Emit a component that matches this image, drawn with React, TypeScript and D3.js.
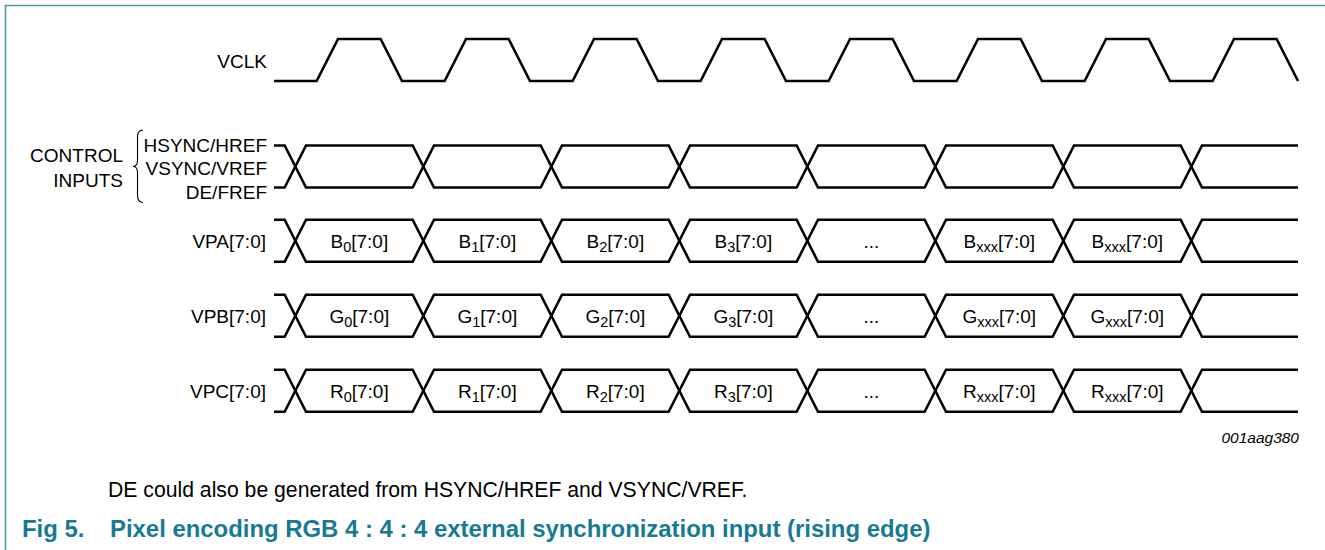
import React, { useEffect, useRef } from 'react';
import * as d3 from 'd3';

const WIDTH = 1325;
const HEIGHT = 550;
const FONT = '"Liberation Sans", Arial, Helvetica, sans-serif';
const TEAL = '#177a95';

// time is counted in units: one VCLK period = 6 units, bus changes once per period
const PERIOD = 6;
const T_START = -1;
const T_END = 47;
const clockPulses = [0, 1, 2, 3, 4, 5, 6, 7];
const busTransitions = [0, 1, 2, 3, 4, 5, 6, 7];

// vertical lanes
const laneNames = ['VCLK', 'CONTROL', 'VPA[7:0]', 'VPB[7:0]', 'VPC[7:0]'];
const laneIndex = [0, 1.42, 2.41, 3.41, 4.41];

const controlLabels = ['HSYNC/HREF', 'VSYNC/VREF', 'DE/FREF'];
const groupLabels = ['CONTROL', 'INPUTS'];

// [letter, subscript] per data period
const vpaWords: [string, string][] = [['B', '0'], ['B', '1'], ['B', '2'], ['B', '3'], ['...', ''], ['B', 'xxx'], ['B', 'xxx'], ['', '']];
const vpbWords: [string, string][] = [['G', '0'], ['G', '1'], ['G', '2'], ['G', '3'], ['...', ''], ['G', 'xxx'], ['G', 'xxx'], ['', '']];
const vpcWords: [string, string][] = [['R', '0'], ['R', '1'], ['R', '2'], ['R', '3'], ['...', ''], ['R', 'xxx'], ['R', 'xxx'], ['', '']];

const drawingId = '001aag380';
const footNote = 'DE could also be generated from HSYNC/HREF and VSYNC/VREF.';
const figNumber = 'Fig 5.';
const figTitle = 'Pixel encoding RGB 4 : 4 : 4 external synchronization input (rising edge)';

export default function App() {
  const svgRef = useRef<SVGSVGElement | null>(null);

  useEffect(() => {
    document.body.style.margin = '0';
    if (!svgRef.current) return;
    const svg = d3.select(svgRef.current);
    svg.selectAll('*').remove();

    const x = d3.scaleLinear().domain([T_START, T_END]).range([274, 1298]);
    const lane = d3.scaleLinear().domain([0, 4.41]).range([60, 390.75]);
    const level = d3.scaleLinear().domain([-1, 1]).range([21, -21]);

    const line = d3.line<[number, number]>()
      .x(d => x(d[0]))
      .y(d => d[1]);

    svg.append('rect').attr('width', WIDTH).attr('height', HEIGHT).attr('fill', '#ffffff');

    // frame
    svg.append('path')
      .attr('d', `M5.5,${HEIGHT} V5.5 H${WIDTH}`)
      .attr('fill', 'none')
      .attr('stroke', '#4f97aa')
      .attr('stroke-width', 1.6);

    const wave = svg.append('g')
      .attr('fill', 'none')
      .attr('stroke', '#000')
      .attr('stroke-width', 2.6)
      .attr('stroke-linejoin', 'miter');

    // VCLK
    const cy = lane(laneIndex[0]);
    const hi = cy + level(1);
    const lo = cy + level(-1);
    const clkPts: [number, number][] = [[T_START, lo]];
    clockPulses.forEach(k => {
      const t = k * PERIOD;
      clkPts.push([t + 1, lo], [t + 2, hi], [t + 4, hi], [t + 5, lo]);
    });
    wave.append('path').attr('d', line(clkPts));

    // buses
    const drawBus = (center: number) => {
      const H = center + level(1);
      const L = center + level(-1);
      const edges = busTransitions.map(k => k * PERIOD);
      // leading open segment
      wave.append('path').attr('d', line([[T_START, H], [edges[0] - 0.5, H], [edges[0], center]]));
      wave.append('path').attr('d', line([[T_START, L], [edges[0] - 0.5, L], [edges[0], center]]));
      edges.forEach((e, i) => {
        const next = edges[i + 1];
        if (next === undefined) {
          wave.append('path').attr('d', line([[e, center], [e + 0.5, H], [T_END, H]]));
          wave.append('path').attr('d', line([[e, center], [e + 0.5, L], [T_END, L]]));
        } else {
          wave.append('path').attr('d', line([[e, center], [e + 0.5, H], [next - 0.5, H], [next, center]]));
          wave.append('path').attr('d', line([[e, center], [e + 0.5, L], [next - 0.5, L], [next, center]]));
        }
      });
      return edges;
    };

    const ctrlCenter = lane(laneIndex[1]);
    drawBus(ctrlCenter);

    const busWords = [vpaWords, vpbWords, vpcWords];
    const text = svg.append('g').attr('font-family', FONT).attr('fill', '#000');

    busWords.forEach((words, bi) => {
      const center = lane(laneIndex[bi + 2]);
      const edges = drawBus(center);
      words.forEach(([letter, sub], i) => {
        if (!letter) return;
        const xm = x(edges[i] + PERIOD / 2);
        const t = text.append('text')
          .attr('x', xm)
          .attr('y', center + 7)
          .attr('text-anchor', 'middle')
          .attr('font-size', 19);
        if (letter === '...') {
          t.text('...');
          return;
        }
        t.append('tspan').text(letter);
        t.append('tspan').attr('font-size', 14.5).attr('dy', 4).text(sub);
        t.append('tspan').attr('dy', -4).text('[7:0]');
      });
      text.append('text')
        .attr('x', 266)
        .attr('y', center + 7)
        .attr('text-anchor', 'end')
        .attr('font-size', 19)
        .text(laneNames[bi + 2]);
    });

    // left labels
    text.append('text')
      .attr('x', 267)
      .attr('y', cy + 7.5)
      .attr('text-anchor', 'end')
      .attr('font-size', 19)
      .text(laneNames[0]);

    controlLabels.forEach((lbl, i) => {
      text.append('text')
        .attr('x', 267)
        .attr('y', ctrlCenter - 21.5 + i * 23.4 + 7)
        .attr('text-anchor', 'end')
        .attr('font-size', 19)
        .text(lbl);
    });

    groupLabels.forEach((lbl, i) => {
      text.append('text')
        .attr('x', 123)
        .attr('y', ctrlCenter - 4.5 + i * 25)
        .attr('text-anchor', 'end')
        .attr('font-size', 19)
        .text(lbl);
    });

    // brace
    const by0 = ctrlCenter - 36.5;
    const by1 = ctrlCenter + 36;
    svg.append('path')
      .attr('d', `M143,${by0} Q137.5,${by0} 137.5,${by0 + 7} L137.5,${ctrlCenter - 6} Q137.5,${ctrlCenter} 133,${ctrlCenter} Q137.5,${ctrlCenter} 137.5,${ctrlCenter + 6} L137.5,${by1 - 7} Q137.5,${by1} 143,${by1}`)
      .attr('fill', 'none')
      .attr('stroke', '#000')
      .attr('stroke-width', 1.1);

    text.append('text')
      .attr('x', 1299)
      .attr('y', 443)
      .attr('text-anchor', 'end')
      .attr('font-size', 15.5)
      .attr('font-style', 'italic')
      .text(drawingId);

    text.append('text')
      .attr('x', 108)
      .attr('y', 497)
      .attr('font-size', 21.2)
      .text(footNote);

    const title = svg.append('g')
      .attr('font-family', FONT)
      .attr('font-weight', 'bold')
      .attr('font-size', 23.9)
      .attr('fill', TEAL);
    title.append('text').attr('x', 22).attr('y', 537).text(figNumber);
    title.append('text').attr('x', 110).attr('y', 537).text(figTitle);
  }, []);

  return (
    <div style={{ position: 'absolute', left: 0, top: 0, width: WIDTH, height: HEIGHT, background: '#fff' }}>
      <svg ref={svgRef} width={WIDTH} height={HEIGHT} role="img" aria-label="Pixel encoding RGB 4:4:4 timing diagram" />
    </div>
  );
}
